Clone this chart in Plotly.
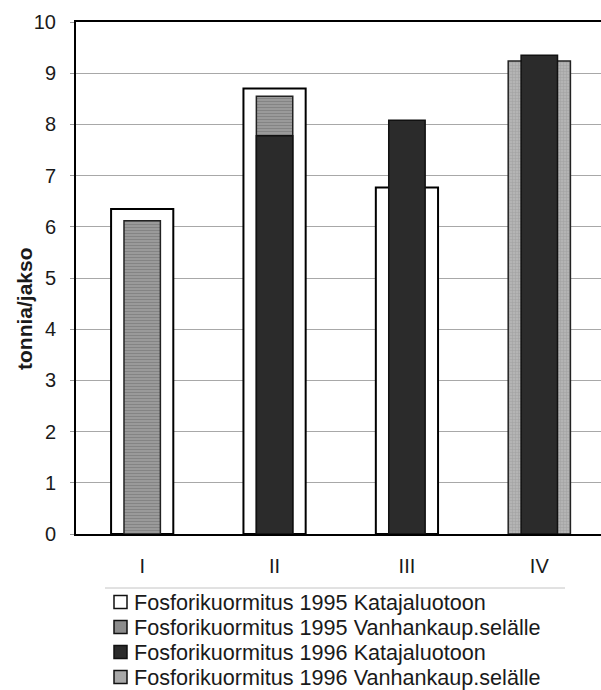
import plotly.graph_objects as go

# Phosphorus load per period (tonnes), four periods
periods = ["I", "II", "III", "IV"]
kata_1995 = [6.35, 8.70, 6.77, None]
vanh_1995 = [6.12, 8.55, None, None]
kata_1996 = [None, 7.78, 8.08, 9.35]
vanh_1996 = [None, None, None, 9.24]

names = [
    "Fosforikuormitus 1995 Katajaluotoon",
    "Fosforikuormitus 1995 Vanhankaup.selälle",
    "Fosforikuormitus 1996 Katajaluotoon",
    "Fosforikuormitus 1996 Vanhankaup.selälle",
]
key_fill = ["white", "#8c8c8c", "#2b2b2b", "#a8a8a8"]

WIDE = 0.47
NARROW = 0.275
FONT = "Liberation Sans, Arial, sans-serif"
TEXT = "#1a1a1a"

# figure geometry (pixels) used to place the key below the plot
W, H = 601, 690
ML, MT, MB = 76, 22, 156
PW, PH = W - ML, H - MT - MB


def px_x(px):
    return (px - ML) / PW


def px_y(py):
    return (H - MB - py) / PH


fig = go.Figure()

# back layer: wide bars
fig.add_trace(go.Bar(
    x=periods, y=kata_1995, name=names[0], width=WIDE,
    marker=dict(color=key_fill[0], line=dict(color="black", width=2)),
))
fig.add_trace(go.Bar(
    x=periods, y=vanh_1996, name=names[3], width=WIDE,
    marker=dict(color=key_fill[3], line=dict(color="#222", width=1.5),
                pattern=dict(shape="+", fgcolor="#8a8a8a", bgcolor="#b4b4b4",
                             size=3, solidity=0.3)),
))
# front layer: narrow bars
fig.add_trace(go.Bar(
    x=periods, y=vanh_1995, name=names[1], width=NARROW,
    marker=dict(color=key_fill[1], line=dict(color="#222", width=1.5),
                pattern=dict(shape="-", fgcolor="#6e6e6e", bgcolor="#9a9a9a",
                             size=3, solidity=0.35)),
))
fig.add_trace(go.Bar(
    x=periods, y=kata_1996, name=names[2], width=NARROW,
    marker=dict(color=key_fill[2], line=dict(color="#111", width=1.5)),
))

annotations = [dict(
    text="<b>tonnia/jakso</b>", textangle=-90,
    xref="paper", yref="paper", x=px_x(24), y=px_y(309),
    xanchor="center", yanchor="middle", showarrow=False,
    font=dict(family=FONT, size=21, color=TEXT),
)]
shapes = [dict(
    type="line", xref="paper", yref="paper",
    x0=px_x(105), x1=px_x(565), y0=px_y(588), y1=px_y(588),
    line=dict(color="#c4c4c4", width=1),
)]

# key: one swatch and one label per series
for i, (name, fill) in enumerate(zip(names, key_fill)):
    cy = 602 + 25 * i
    shapes.append(dict(
        type="rect", xref="paper", yref="paper",
        x0=px_x(114), x1=px_x(127), y0=px_y(cy + 6.5), y1=px_y(cy - 6.5),
        fillcolor=fill, line=dict(color="#111", width=1.5),
    ))
    annotations.append(dict(
        text=name, xref="paper", yref="paper",
        x=px_x(132), y=px_y(cy), xanchor="left", yanchor="middle",
        showarrow=False, font=dict(family=FONT, size=21.6, color=TEXT),
    ))

fig.update_layout(
    width=W, height=H,
    margin=dict(l=ML, r=0, t=MT, b=MB, autoexpand=False),
    paper_bgcolor="white", plot_bgcolor="white",
    barmode="overlay",
    font=dict(family=FONT, size=20, color=TEXT),
    showlegend=False,
    xaxis=dict(
        type="category", range=[-0.5, 3.466],
        showline=True, linecolor="black", linewidth=2, mirror=True,
        showgrid=False, ticks="", ticklabelstandoff=13,
        tickfont=dict(family=FONT, size=20, color=TEXT),
    ),
    yaxis=dict(
        range=[0, 10], dtick=1, tick0=0,
        showline=True, linecolor="black", linewidth=2,
        showgrid=True, gridcolor="#a8a8a8", gridwidth=1,
        ticks="outside", ticklen=4, tickcolor="#999",
        ticklabelstandoff=10,
        tickfont=dict(family=FONT, size=20, color=TEXT),
        zeroline=False,
    ),
    annotations=annotations,
    shapes=shapes,
)

fig.write_html("out.html")
